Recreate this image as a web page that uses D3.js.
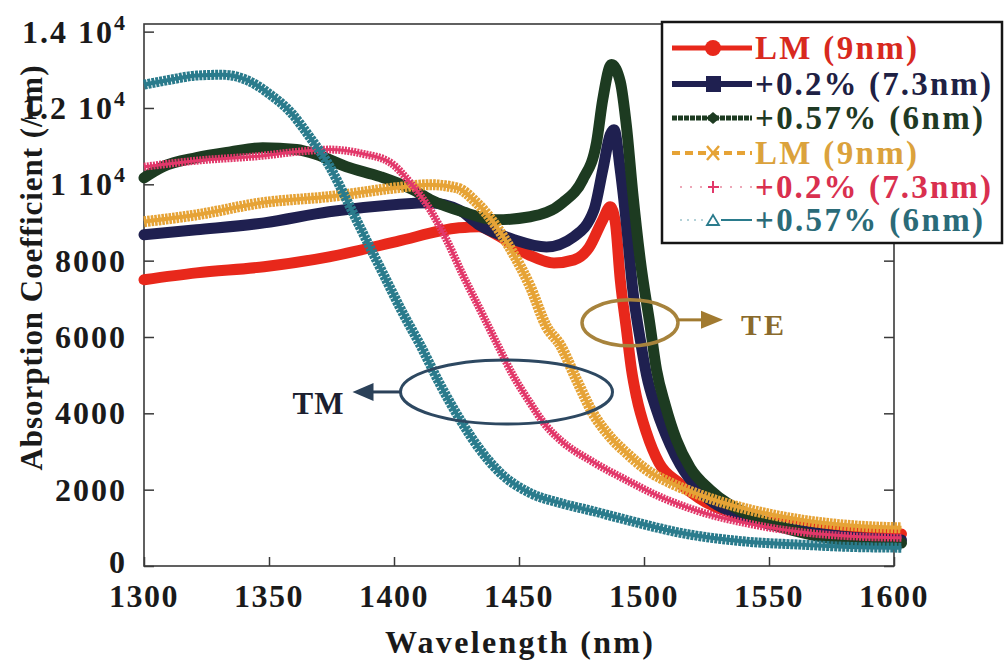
<!DOCTYPE html>
<html><head><meta charset="utf-8">
<script src="https://cdn.jsdelivr.net/npm/d3@7"></script>
<style>
html,body{margin:0;padding:0;background:#fff;}
svg{display:block;}
text{font-family:"Liberation Serif","Times New Roman",serif;font-weight:bold;}
</style></head><body>
<svg id="c" width="1005" height="666"></svg>
<script>
// ---- axes ----
const xTicks = [1300, 1350, 1400, 1450, 1500, 1550, 1600];
const yTicks = [0, 2000, 4000, 6000, 8000, 10000, 12000, 14000];
const yTickMain = ["0", "2000", "4000", "6000", "8000", "1 10", "1.2 10", "1.4 10"];
const yTickSup  = ["", "", "", "", "", "4", "4", "4"];

// ---- TE series ----
const teLM_nm  = [1300,1321,1348,1374,1401,1426,1434,1441,1454,1464,1472,1478,1483.5,1486.5,1488.5,1490.5,1493,1495,1497,1501,1506,1514,1522,1542,1562,1582,1603];
const teLM_val = [7500,7680,7840,8100,8500,8860,8890,8680,8150,7940,8020,8340,9070,9410,9020,7500,6190,5140,4430,3490,2700,2180,1780,1260,1050,900,840];

const te02_nm  = [1300,1321,1348,1374,1401,1414,1426,1434,1448,1461,1472,1480,1483.5,1486.5,1488,1490.5,1493,1495.5,1498.5,1501,1505,1510.5,1514.5,1522,1542,1562,1582,1603];
const te02_val = [8680,8810,8990,9280,9470,9520,9330,8940,8550,8360,8630,9330,10380,11300,11430,10380,8940,7240,5930,5010,4090,3170,2650,1990,1260,940,760,680];

const te057_nm  = [1300,1307.5,1321,1334.5,1347.5,1361,1369,1381,1394.5,1407.5,1414.5,1427.5,1441,1454.5,1467.5,1475.5,1481,1483.5,1487,1490.5,1493,1495.5,1498.5,1502.5,1505,1508.5,1513,1518.5,1526.5,1542,1562,1582,1603];
const te057_val = [10170,10460,10700,10850,10960,10910,10780,10460,10200,9860,9600,9280,9070,9150,9520,10120,11090,12220,13140,12690,11510,9780,8020,6270,5140,4220,3300,2570,1990,1340,890,660,600];

// ---- TM series ----
const tmLM_nm  = [1300,1321,1347.5,1374.5,1401,1414.5,1425,1433,1441,1447.5,1454.5,1461,1466.5,1473,1479.5,1486.5,1493,1501,1510.5,1522.5,1542.5,1562.5,1582.5,1603];
const tmLM_val = [9020,9200,9520,9680,9910,9990,9910,9520,8890,8210,7320,6270,5790,4880,4010,3380,2960,2520,2180,1860,1470,1210,1060,1000];

const tm02_nm  = [1300,1321,1347.5,1361,1374.5,1387.5,1398.5,1406.5,1414.5,1421,1427.5,1434.5,1441,1447.5,1454.5,1460.5,1466.5,1479.5,1493,1506.5,1522.5,1542.5,1562.5,1582.5,1603];
const tm02_val = [10460,10620,10750,10850,10910,10800,10570,10040,9330,8550,7630,6710,5850,5010,4270,3700,3300,2730,2250,1810,1420,1100,890,780,740];

const tm057_nm  = [1300,1310.5,1321,1331.5,1342.5,1350.5,1358.5,1366.5,1374.5,1381,1387.5,1395.5,1403.5,1410.5,1418.5,1426.5,1434.5,1442.5,1454.5,1466.5,1479.5,1493,1514.5,1542.5,1562.5,1582.5,1603];
const tm057_val = [12610,12740,12850,12870,12690,12350,11900,11220,10440,9600,8730,7680,6630,5790,4750,3830,3040,2440,1910,1650,1440,1210,870,630,560,500,480];

const legendLabels = ["LM (9nm)", "+0.2% (7.3nm)", "+0.57% (6nm)", "LM (9nm)", "+0.2% (7.3nm)", "+0.57% (6nm)"];

// ---- drawing ----
const svg = d3.select("#c");
const L = 144, R = 894, T = 24, B = 566;
const x = d3.scaleLinear().domain([1300, 1600]).range([L, R]);
const y = d3.scaleLinear().domain([0, 14200]).range([B, T]);

const series = [
  {nm: teLM_nm,  v: teLM_val,  color: "#e8281b", w: 11, dash: null},
  {nm: te02_nm,  v: te02_val,  color: "#1f2050", w: 11, dash: null},
  {nm: te057_nm, v: te057_val, color: "#1d3b21", w: 11, dash: null},
  {nm: tmLM_nm,  v: tmLM_val,  color: "#e6a336", w: 11, dash: "2.6 1", core: 4},
  {nm: tm02_nm,  v: tm02_val,  color: "#e2386a", w: 8,  dash: "2 1.1", core: 3},
  {nm: tm057_nm, v: tm057_val, color: "#2a7b8c", w: 10, dash: "3 1",   core: 4}
];

const line = d3.line().x(d => x(d[0])).y(d => y(d[1])).curve(d3.curveMonotoneX);

// frame
svg.append("rect").attr("x", L).attr("y", T).attr("width", R - L).attr("height", B - T)
  .attr("fill", "none").attr("stroke", "#3a3a3a").attr("stroke-width", 1.6);

// ticks via axes (inward)
svg.append("g").attr("transform", `translate(${L},0)`)
  .call(d3.axisLeft(y).tickValues(yTicks).tickSize(-10).tickFormat(""))
  .call(g => g.select(".domain").remove())
  .selectAll("line").attr("stroke", "#3a3a3a").attr("stroke-width", 1.5);
svg.append("g").attr("transform", `translate(${R},0)`)
  .call(d3.axisRight(y).tickValues(yTicks).tickSize(-10).tickFormat(""))
  .call(g => g.select(".domain").remove())
  .selectAll("line").attr("stroke", "#3a3a3a").attr("stroke-width", 1.5);
svg.append("g").attr("transform", `translate(0,${B})`)
  .call(d3.axisBottom(x).tickValues(xTicks).tickSize(-9).tickFormat(""))
  .call(g => g.select(".domain").remove())
  .selectAll("line").attr("stroke", "#3a3a3a").attr("stroke-width", 1.5);

// curves
const cg = svg.append("g");
series.forEach(s => {
  const pts = s.nm.map((n, i) => [n, s.v[i]]);
  const p = cg.append("path").attr("d", line(pts)).attr("fill", "none")
    .attr("stroke", s.color).attr("stroke-width", s.w)
    .attr("stroke-linejoin", "round").attr("stroke-linecap", "round");
  if (s.dash) {
    p.attr("stroke-dasharray", s.dash).attr("stroke-linecap", "butt");
    cg.append("path").attr("d", line(pts)).attr("fill", "none")
      .attr("stroke", s.color).attr("stroke-width", s.core);
  }
});

// y tick labels
const yl = svg.append("g").attr("font-size", 32).attr("fill", "#1a1a1a").attr("letter-spacing", 2);
yTicks.forEach((t, i) => {
  const tx = yl.append("text").attr("x", 127).attr("y", y(t) + (t === 0 ? 7 : 11)).attr("text-anchor", "end");
  tx.append("tspan").text(yTickMain[i]);
  if (yTickSup[i]) tx.append("tspan").attr("dy", -13).attr("font-size", 22).text(yTickSup[i]);
});

// x tick labels
svg.append("g").selectAll("text").data(xTicks).join("text")
  .attr("x", d => x(d)).attr("y", 607).attr("text-anchor", "middle")
  .attr("font-size", 32).attr("letter-spacing", 1.5).attr("fill", "#1a1a1a").text(d => d);

// axis titles
svg.append("text").attr("x", x(1450)).attr("y", 653).attr("text-anchor", "middle")
  .attr("font-size", 32).attr("fill", "#1a1a1a")
  .attr("textLength", 268).attr("lengthAdjust", "spacing").text("Wavelength (nm)");
svg.append("text").attr("transform", "translate(42,268) rotate(-90)").attr("text-anchor", "middle")
  .attr("font-size", 31).attr("fill", "#1a1a1a")
  .attr("textLength", 405).attr("lengthAdjust", "spacing").text("Absorption Coefficient (/cm)");

// annotations: TM
const tmC = [1445, 4560];
const tmx = x(tmC[0]), tmy = y(tmC[1]);
svg.append("ellipse").attr("cx", tmx).attr("cy", tmy).attr("rx", 106).attr("ry", 32)
  .attr("fill", "none").attr("stroke", "#2d4861").attr("stroke-width", 3);
svg.append("line").attr("x1", tmx - 106).attr("y1", tmy).attr("x2", tmx - 136).attr("y2", tmy)
  .attr("stroke", "#2b4159").attr("stroke-width", 3);
svg.append("path").attr("d", `M${tmx-154},${tmy} L${tmx-133},${tmy-9} L${tmx-133},${tmy+9} Z`).attr("fill", "#2b4159");
svg.append("text").attr("x", tmx - 162).attr("y", tmy + 22).attr("text-anchor", "end")
  .attr("font-size", 31).attr("fill", "#1c1f30").attr("letter-spacing", 1).text("TM");

// annotations: TE
const teC = [1494.4, 6370];
const tex = x(teC[0]), tey = y(teC[1]);
svg.append("ellipse").attr("cx", tex).attr("cy", tey).attr("rx", 48).attr("ry", 23)
  .attr("fill", "none").attr("stroke", "#a7833c").attr("stroke-width", 3.5);
svg.append("line").attr("x1", tex + 48).attr("y1", tey - 3).attr("x2", tex + 74).attr("y2", tey - 3)
  .attr("stroke", "#a17a30").attr("stroke-width", 3);
svg.append("path").attr("d", `M${tex+93},${tey-3} L${tex+71},${tey-12} L${tex+71},${tey+6} Z`).attr("fill", "#a17a30");
svg.append("text").attr("x", tex + 111).attr("y", tey + 12)
  .attr("font-size", 30).attr("fill", "#8a6a2c").attr("letter-spacing", 3).text("TE");

// legend
const lg = svg.append("g");
lg.append("rect").attr("x", 662).attr("y", 22).attr("width", 340).attr("height", 221)
  .attr("fill", "#fff").attr("stroke", "#151515").attr("stroke-width", 2.5);
const rowY = [48, 84, 118, 153, 187, 220];
const textW = [162, 236, 228, 162, 236, 228];
const textCol = ["#d8291e", "#1e2144", "#1f3a24", "#dba23c", "#d9304f", "#2b6b78"];
const lx0 = 672, lx1 = 752, lxm = 713;
rowY.forEach((ry, i) => {
  const s = series[i];
  if (i === 0) {
    lg.append("line").attr("x1", lx0).attr("x2", lx1).attr("y1", ry).attr("y2", ry).attr("stroke", s.color).attr("stroke-width", 5);
    lg.append("circle").attr("cx", lxm).attr("cy", ry).attr("r", 8).attr("fill", s.color);
  } else if (i === 1) {
    lg.append("line").attr("x1", lx0).attr("x2", lx1).attr("y1", ry).attr("y2", ry).attr("stroke", s.color).attr("stroke-width", 6);
    lg.append("rect").attr("x", lxm - 7).attr("y", ry - 8).attr("width", 15).attr("height", 16).attr("fill", s.color);
  } else if (i === 2) {
    lg.append("line").attr("x1", lx0).attr("x2", lx1).attr("y1", ry).attr("y2", ry).attr("stroke", s.color).attr("stroke-width", 5).attr("stroke-dasharray", "5 1");
    lg.append("path").attr("d", `M${lxm-7},${ry} L${lxm},${ry-6} L${lxm+7},${ry} L${lxm},${ry+6} Z`).attr("fill", s.color);
  } else if (i === 3) {
    lg.append("line").attr("x1", lx0).attr("x2", lx1).attr("y1", ry).attr("y2", ry).attr("stroke", s.color).attr("stroke-width", 4).attr("stroke-dasharray", "8 5");
    lg.append("path").attr("d", `M${lxm-6},${ry-7} L${lxm+6},${ry+7} M${lxm+6},${ry-7} L${lxm-6},${ry+7}`).attr("stroke", s.color).attr("stroke-width", 2.5);
  } else if (i === 4) {
    lg.append("line").attr("x1", lx0 + 8).attr("x2", lx1).attr("y1", ry).attr("y2", ry).attr("stroke", "#e88aa0").attr("stroke-width", 1.5).attr("stroke-dasharray", "2 8");
    lg.append("path").attr("d", `M${lxm-5},${ry} L${lxm+6},${ry} M${lxm},${ry-6} L${lxm},${ry+6}`).attr("stroke", s.color).attr("stroke-width", 2);
  } else {
    lg.append("line").attr("x1", lx0 + 8).attr("x2", lxm - 8).attr("y1", ry).attr("y2", ry).attr("stroke", "#9cc3cc").attr("stroke-width", 1.5).attr("stroke-dasharray", "2 5");
    lg.append("line").attr("x1", lxm + 8).attr("x2", lx1).attr("y1", ry).attr("y2", ry).attr("stroke", s.color).attr("stroke-width", 2);
    lg.append("path").attr("d", `M${lxm-6},${ry+5} L${lxm+6},${ry+5} L${lxm},${ry-5} Z`).attr("fill", "none").attr("stroke", s.color).attr("stroke-width", 1.8);
  }
  lg.append("text").attr("x", lx1 + 3).attr("y", ry + 11).attr("font-size", 33).attr("fill", textCol[i])
    .attr("textLength", textW[i]).attr("lengthAdjust", "spacing").text(legendLabels[i]);
});
</script>
</body></html>
